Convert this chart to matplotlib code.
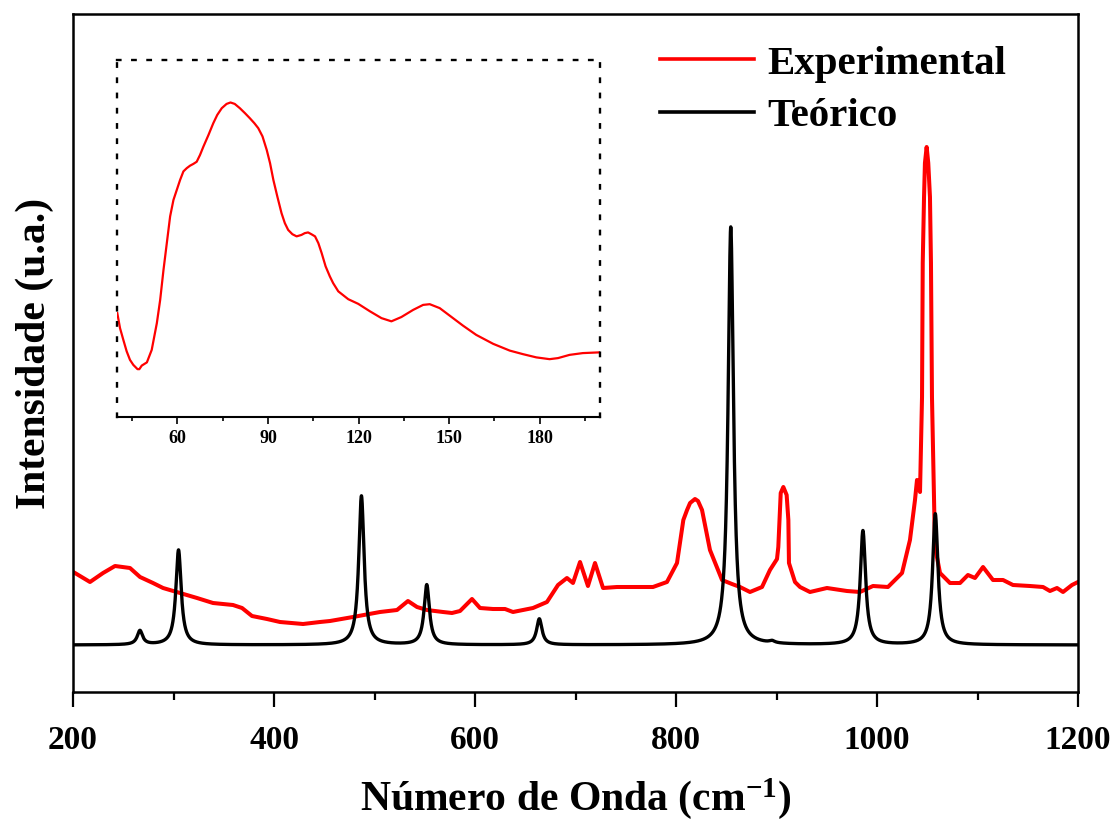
import numpy as np
import matplotlib
matplotlib.use("Agg")
import matplotlib.pyplot as plt
from matplotlib.ticker import MultipleLocator, NullLocator
from matplotlib.lines import Line2D

plt.rcParams['font.family'] = ['Liberation Serif', 'DejaVu Serif']
plt.rcParams['font.weight'] = 'bold'
plt.rcParams['mathtext.fontset'] = 'custom'
plt.rcParams['mathtext.rm'] = 'Liberation Serif:bold'
plt.rcParams['mathtext.bf'] = 'Liberation Serif:bold'
plt.rcParams['mathtext.default'] = 'regular'

# ---------------- data ----------------
# Experimental spectrum (wavenumber cm-1, intensity a.u.)
exp_x = [200.3, 216.9, 229.9, 241.8, 256.7, 266.7, 279.6, 289.6, 306.5, 323.4,
         339.3, 359.2, 368.2, 378.1, 393.0, 406.0, 428.9, 445.8, 455.7, 478.6,
         505.5, 522.4, 533.3, 542.3, 552.2, 568.2, 577.1, 585.1, 597.0, 605.0,
         617.9, 629.9, 637.8, 657.7, 671.6, 682.6, 691.5, 697.5, 704.5, 712.4,
         719.4, 727.4, 741.3, 757.2, 777.1, 791.0, 801.0, 807.3, 811.0, 814.0,
         818.9, 821.9, 825.9, 833.8, 845.8, 855.7, 863.7, 873.6, 885.6, 893.5,
         900.5, 901.8, 904.2, 906.8, 910.1, 911.8, 912.4, 918.4, 923.4, 933.3,
         950.2, 970.1, 983.1, 996.0, 1010.9, 1024.9, 1032.8, 1037.8, 1039.8, 1042.8,
         1044.8, 1045.5, 1046.8, 1047.7, 1049.4, 1051.0, 1052.7, 1053.7, 1054.7, 1057.7,
         1062.7, 1072.6, 1082.6, 1090.5, 1097.5, 1105.5, 1115.4, 1125.4, 1135.3, 1152.2,
         1165.2, 1172.1, 1179.1, 1185.1, 1194.0, 1200.0]
exp_y = [120, 110, 119, 126, 124, 115, 109, 104, 99, 94,
         89, 87, 84, 76, 73, 70, 68, 70, 71, 75,
         80, 82, 91, 85, 82, 80, 79, 81, 93, 84,
         83, 83, 80, 84, 90, 107, 114, 109, 130, 106,
         129, 104, 105, 105, 105, 110, 129, 172, 182, 189,
         193, 191, 182, 142, 112, 108, 105, 100, 105, 122,
         133, 145, 199, 205, 197, 172, 129, 110, 105, 100,
         104, 101, 100, 106, 105, 119, 152, 192, 212, 200,
         295, 429, 495, 529, 545, 529, 495, 429, 295, 145,
         119, 109, 109, 117, 114, 125, 112, 112, 107, 106,
         105, 101, 104, 100, 107, 110]

# Theoretical spectrum: calculated band positions, intensities, band half-width
theo_pos = [266.6, 305.0, 487.0, 552.0, 664.0, 854.5, 895.5, 986.0, 1058.0]
theo_int = [14, 95, 149, 60, 26, 418, 2, 114, 131]
theo_hwhm = 3.2
theo_base = 47

# Inset: low-wavenumber experimental region
ins_x = [40.1, 41.0, 42.1, 43.2, 44.3, 45.4, 46.8, 47.4, 48.2, 49.9,
         51.5, 53.2, 54.3, 55.4, 56.5, 57.6, 58.7, 59.8, 60.9, 62.0,
         63.1, 64.2, 65.3, 66.4, 67.5, 68.6, 70.3, 71.9, 73.2, 74.7,
         76.3, 77.6, 79.0, 80.7, 82.4, 84.0, 85.5, 86.8, 88.2, 89.6,
         90.7, 91.8, 93.1, 94.5, 95.6, 96.7, 98.1, 99.5, 101.1, 102.2,
         103.3, 104.4, 105.6, 106.7, 107.8, 109.1, 110.5, 111.6, 113.3, 116.6,
         119.9, 123.8, 127.6, 130.9, 134.2, 138.1, 141.4, 143.6, 146.9, 150.2,
         154.6, 159.0, 164.6, 170.1, 174.5, 178.9, 183.3, 186.1, 189.9, 194.3,
         199.7]
ins_y = [29.1, 24.9, 21.6, 18.4, 16.0, 14.6, 13.4, 13.4, 14.4, 15.3,
         18.8, 26.3, 32.8, 41.2, 48.7, 56.2, 60.8, 63.6, 66.4, 68.8,
         69.7, 70.4, 70.9, 71.5, 73.4, 75.7, 79.0, 82.3, 84.6, 86.5,
         87.7, 88.1, 87.7, 86.5, 85.1, 83.7, 82.3, 80.9, 78.6, 74.8,
         71.1, 66.4, 61.8, 57.1, 54.3, 52.4, 51.2, 50.6, 51.0, 51.5,
         51.7, 51.2, 50.6, 48.7, 45.9, 42.2, 39.4, 37.5, 35.2, 33.0,
         31.7, 29.6, 27.7, 26.8, 28.0, 30.0, 31.4, 31.6, 30.5, 28.4,
         25.6, 23.0, 20.5, 18.6, 17.6, 16.7, 16.2, 16.5, 17.4, 17.9,
         18.1]

labels = ["Experimental", "Teórico"]
main_xticks = [200, 400, 600, 800, 1000, 1200]
inset_xticks = [60, 90, 120, 150, 180]

# ---------------- figure ----------------
W, H = 1111, 821
fig = plt.figure(figsize=(W / 100, H / 100), dpi=100)
ax = fig.add_axes([73 / W, 1 - 692 / H, (1078 - 73) / W, (692 - 14) / H])

grid = np.linspace(200, 1200, 8001)
theo = np.full_like(grid, theo_base, dtype=float)
for p, a in zip(theo_pos, theo_int):
    theo += a * theo_hwhm ** 2 / ((grid - p) ** 2 + theo_hwhm ** 2)

ax.plot(exp_x, exp_y, color='#ff0000', lw=2.9, solid_joinstyle='round', zorder=2)
ax.plot(grid, theo, color='black', lw=2.4, zorder=3)

ax.set_xlim(200, 1200)
ax.set_ylim(0, 678)
ax.set_xticks(main_xticks)
ax.xaxis.set_minor_locator(MultipleLocator(100))
ax.yaxis.set_major_locator(NullLocator())
ax.yaxis.set_minor_locator(NullLocator())
for s in ax.spines.values():
    s.set_linewidth(1.8)
ax.tick_params(axis='x', which='major', direction='out', length=11, width=1.6,
               labelsize=24, pad=13)
ax.tick_params(axis='x', which='minor', direction='out', length=6, width=1.6)
for lab in ax.get_xticklabels():
    lab.set_fontweight('bold')
ax.set_xlabel('Número de Onda (cm$^{\\mathregular{-1}}$)', fontsize=30,
              fontweight='bold', labelpad=14)
ax.set_ylabel('Intensidade (u.a.)', fontsize=30, fontweight='bold', labelpad=14)

handles = [Line2D([], [], color='#ff0000', lw=2.6), Line2D([], [], color='black', lw=2.6)]
ax.legend(handles, labels, loc='upper left', bbox_to_anchor=(660 / W, 1 - 45 / H),
          bbox_transform=fig.transFigure, frameon=False, borderpad=0, borderaxespad=0,
          handlelength=2.3, handletextpad=0.32, labelspacing=0.36,
          prop={'family': 'Liberation Serif', 'weight': 'bold', 'size': 29.5})

# ---------------- inset ----------------
axi = fig.add_axes([117 / W, 1 - 417 / H, (600 - 117) / W, (417 - 60) / H])
axi.plot(ins_x, ins_y, color='#ff0000', lw=1.6)
axi.set_xlim(40, 200)
axi.set_ylim(0, 100)
axi.set_xticks(inset_xticks)
axi.xaxis.set_minor_locator(MultipleLocator(15))
axi.yaxis.set_major_locator(NullLocator())
for side in ['top', 'left', 'right']:
    axi.spines[side].set_linestyle((0, (1.45, 5.0)))
    axi.spines[side].set_linewidth(1.7)
axi.spines['bottom'].set_linewidth(1.5)
axi.tick_params(axis='x', which='major', direction='out', length=5, width=1.2,
                labelsize=13, pad=4)
axi.tick_params(axis='x', which='minor', direction='out', length=3, width=1.2)
for lab in axi.get_xticklabels():
    lab.set_fontweight('bold')

fig.savefig('out.png', dpi=100)
